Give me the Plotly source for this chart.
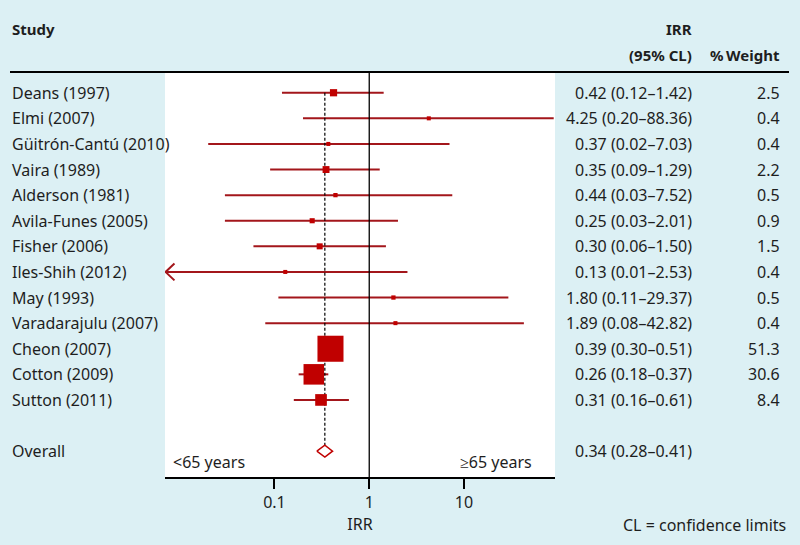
import math
import plotly.graph_objects as go

# ---------------- data ----------------
studies = ["Deans (1997)", "Elmi (2007)", "Güitrón-Cantú (2010)", "Vaira (1989)",
           "Alderson (1981)", "Avila-Funes (2005)", "Fisher (2006)", "Iles-Shih (2012)",
           "May (1993)", "Varadarajulu (2007)", "Cheon (2007)", "Cotton (2009)",
           "Sutton (2011)"]
irr = [0.42, 4.25, 0.37, 0.35, 0.44, 0.25, 0.30, 0.13, 1.80, 1.89, 0.39, 0.26, 0.31]
lower = [0.12, 0.20, 0.02, 0.09, 0.03, 0.03, 0.06, 0.01, 0.11, 0.08, 0.30, 0.18, 0.16]
upper = [1.42, 88.36, 7.03, 1.29, 7.52, 2.01, 1.50, 2.53, 29.37, 42.82, 0.51, 0.37, 0.61]
weight = [2.5, 0.4, 0.4, 2.2, 0.5, 0.9, 1.5, 0.4, 0.5, 0.4, 51.3, 30.6, 8.4]
overall_label = "Overall"
overall_irr = 0.34
overall_lower = 0.28
overall_upper = 0.41
tick_vals = [0.1, 1, 10]
tick_text = ["0.1", "1", "10"]
ci_floor = 0.01   # lower limits at or below this are drawn as arrows to the axis edge

# ---------------- layout constants ----------------
W, H = 800, 545
FONT = "Noto Sans"
FS = 16
TXT = "#1e1e1e"
BG = "#dcf0f4"
MARK = "#c00000"
LINE = "#a3161b"
XR = [-2.155, 1.96]          # log10 range
n = len(studies)
overall_row = n + 1
YR = [15.01, -0.81]

def px(x):
    return x / W

def py(y):
    return 1 - y / H

fig = go.Figure()

rows = list(range(n))

# CI lines
cx, cy = [], []
arrows_x, arrows_y = [], []
xedge = 10 ** (XR[0] + 0.005)
for i in rows:
    lo = lower[i]
    if lo <= ci_floor:
        lo = xedge
        arrows_x += [10 ** (XR[0] + 0.1), xedge, 10 ** (XR[0] + 0.1), None]
        arrows_y += [i - 0.33, i, i + 0.33, None]
    cx += [lo, upper[i], None]
    cy += [i, i, None]
fig.add_trace(go.Scatter(x=cx, y=cy, mode="lines", line=dict(color=LINE, width=2),
                         hoverinfo="skip"))
fig.add_trace(go.Scatter(x=arrows_x, y=arrows_y, mode="lines",
                         line=dict(color=LINE, width=2), hoverinfo="skip"))

# dashed overall line
fig.add_trace(go.Scatter(x=[overall_irr, overall_irr], y=[0, overall_row - 0.23],
                         mode="lines", line=dict(color="black", width=1.2, dash="3px,2px"),
                         hoverinfo="skip"))

# study squares
sizes = [1.9 + 3.37 * math.sqrt(w) for w in weight]
fig.add_trace(go.Scatter(x=irr, y=rows, mode="markers",
                         marker=dict(symbol="square", size=sizes, color=MARK, opacity=1,
                                     line=dict(color=MARK, width=0)),
                         hoverinfo="skip"))

# overall diamond
fig.add_trace(go.Scatter(x=[overall_lower, overall_irr, overall_upper, overall_irr, overall_lower],
                         y=[overall_row, overall_row - 0.23, overall_row, overall_row + 0.23, overall_row],
                         mode="lines", line=dict(color=MARK, width=1.5), hoverinfo="skip"))

shapes = [
    # line of no effect
    dict(type="line", xref="x", yref="paper", x0=1, x1=1, y0=py(477), y1=py(72),
         line=dict(color="black", width=1.3)),
    # header rule
    dict(type="line", xref="paper", yref="paper", x0=px(10), x1=px(789), y0=py(72), y1=py(72),
         line=dict(color="black", width=2)),
]

ann = []
def text(x, y, s, anchor="left", bold=False, yref="paper", size=FS):
    ann.append(dict(x=x, y=y, xref="paper", yref=yref, text=("<b>%s</b>" % s) if bold else s,
                    showarrow=False, xanchor=anchor, yanchor="middle",
                    font=dict(family=FONT, size=size, color=TXT)))

for i in rows:
    text(px(10), i, studies[i], yref="y")
    text(px(694), i, "%.2f (%.2f–%.2f)" % (irr[i], lower[i], upper[i]), anchor="right", yref="y")
    text(px(782), i, "%.1f" % weight[i], anchor="right", yref="y")
text(px(10), overall_row, overall_label, yref="y")
text(px(694), overall_row, "%.2f (%.2f–%.2f)" % (overall_irr, overall_lower, overall_upper),
     anchor="right", yref="y")

text(px(10), py(29), "Study", bold=True, size=15)
text(px(694), py(29), "IRR", anchor="right", bold=True, size=15)
text(px(694), py(55), "(95% CL)", anchor="right", bold=True, size=15)
text(px(782), py(55), "%\u2009Weight", anchor="right", bold=True, size=15)
text(px(171), py(462), "<65 years")
text(px(534), py(462), "≥65 years", anchor="right")
text(px(788), py(525), "CL = confidence limits", anchor="right")

fig.update_layout(
    width=W, height=H, margin=dict(l=0, r=0, t=0, b=0),
    paper_bgcolor=BG, plot_bgcolor="white", showlegend=False, hovermode=False,
    font=dict(family=FONT, size=FS, color=TXT),
    shapes=shapes, annotations=ann,
    xaxis=dict(type="log", range=XR, domain=[px(165), px(555)], tickvals=tick_vals,
               ticktext=tick_text, ticks="outside", ticklen=10, tickwidth=1.5,
               tickcolor="black", showline=True, linecolor="black", linewidth=1.6,
               showgrid=False, zeroline=False, automargin=False,
               tickfont=dict(family=FONT, size=FS, color=TXT),
               title=dict(text="IRR", font=dict(family=FONT, size=FS, color=TXT), standoff=6)),
    yaxis=dict(range=YR, domain=[py(477), py(72)], showticklabels=False, showgrid=False,
               zeroline=False, showline=False, ticks="", automargin=False),
)

fig.write_html("out.html", config={"displayModeBar": False},
               post_script="document.body.style.margin='0';")
